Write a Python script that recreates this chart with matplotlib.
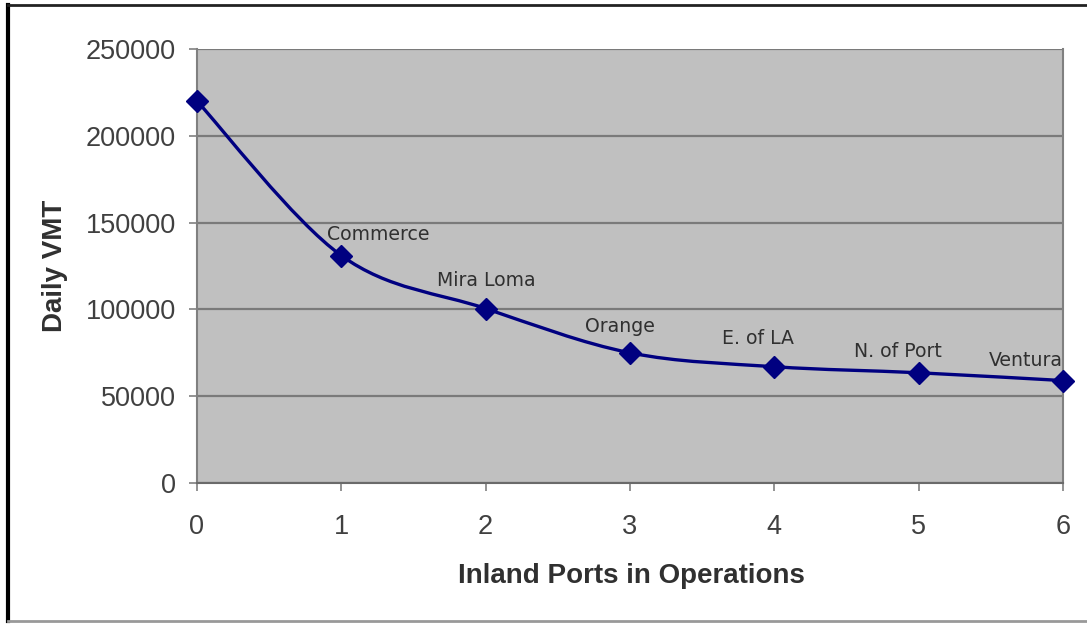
import matplotlib
matplotlib.use("Agg")
import matplotlib.pyplot as plt
from matplotlib.path import Path
from matplotlib.patches import PathPatch
from matplotlib.lines import Line2D
import numpy as np

# data
ports = [0, 1, 2, 3, 4, 5, 6]
vmt = [220000, 131000, 100500, 75000, 67000, 63500, 59000]
names = ["", "Commerce", "Mira Loma", "Orange", "E. of LA", "N. of Port", "Ventura"]
# label offsets in pixels (dx, dy) from the point
label_off = [(0, 0), (37, 21), (1, 28), (-10, 26), (-16, 28), (-21, 21), (-37, 20)]

navy = "#000080"

fig = plt.figure(figsize=(10.87, 6.24), dpi=100)
ax = fig.add_axes([197/1087, 1-483/624, 866/1087, 434/624])
ax.set_facecolor("#c0c0c0")

ax.set_xlim(0, 6)
ax.set_ylim(0, 250000)
ax.set_xticks(ports)
ax.set_yticks(np.arange(0, 250001, 50000))
ax.yaxis.grid(True, color="#7a7a7a", lw=1.6)
ax.set_axisbelow(True)

for s in ["left", "right", "bottom"]:
    ax.spines[s].set_color("#808080")
    ax.spines[s].set_linewidth(1.5)
ax.spines["top"].set_visible(False)
ax.spines["bottom"].set_color("#6a6a6a")

ax.tick_params(axis="both", colors="#808080", length=6, width=1.2, direction="out")
ax.tick_params(axis="y", pad=9, labelsize=19.5, labelcolor="#404040")
ax.tick_params(axis="x", pad=16, labelsize=19.5, labelcolor="#404040")
for lab in ax.get_xticklabels() + ax.get_yticklabels():
    lab.set_fontfamily("Liberation Sans")

# smoothed line like Excel (Catmull-Rom as cubic Bezier)
x = np.array(ports, dtype=float)
y = np.array(vmt, dtype=float)
verts = [(x[0], y[0])]
codes = [Path.MOVETO]
n = len(x)
for i in range(n - 1):
    p0 = (x[max(i-1, 0)], y[max(i-1, 0)])
    p1 = (x[i], y[i])
    p2 = (x[i+1], y[i+1])
    p3 = (x[min(i+2, n-1)], y[min(i+2, n-1)])
    c1 = (p1[0] + (p2[0]-p0[0])/6, p1[1] + (p2[1]-p0[1])/6)
    c2 = (p2[0] - (p3[0]-p1[0])/6, p2[1] - (p3[1]-p1[1])/6)
    verts += [c1, c2, p2]
    codes += [Path.CURVE4] * 3
curve = PathPatch(Path(verts, codes), facecolor="none", edgecolor=navy, lw=2.4,
                  transform=ax.transData, clip_on=False, zorder=3)
ax.add_patch(curve)
ax.plot(ports, vmt, linestyle="none", marker="D", ms=11, color=navy, clip_on=False, zorder=4)

for xi, yi, nm, off in zip(ports, vmt, names, label_off):
    if nm:
        ax.annotate(nm, (xi, yi), xytext=(off[0]*0.72, off[1]*0.72), textcoords="offset points",
                    ha="center", va="center", fontsize=13.6, color="#303030",
                    family="DejaVu Sans", zorder=5, annotation_clip=False)

fig.text(55/1087, 1-266/624, "Daily VMT", rotation=90, ha="center", va="center",
         fontsize=20, fontweight="bold", color="#303030", family="Liberation Sans")
fig.text(631/1087, 1-576/624, "Inland Ports in Operations", ha="center", va="center",
         fontsize=20, fontweight="bold", color="#303030", family="Liberation Sans")

# frame lines of the original screenshot
fig.add_artist(Line2D([8/1087, 8/1087], [1-5/624, 1-621/624], color="black", lw=3))
fig.add_artist(Line2D([8/1087, 1], [1-5/624, 1-5/624], color="#222222", lw=2))
fig.add_artist(Line2D([8/1087, 1], [1-621/624, 1-621/624], color="#999999", lw=2))

fig.savefig("out.png", dpi=100)
